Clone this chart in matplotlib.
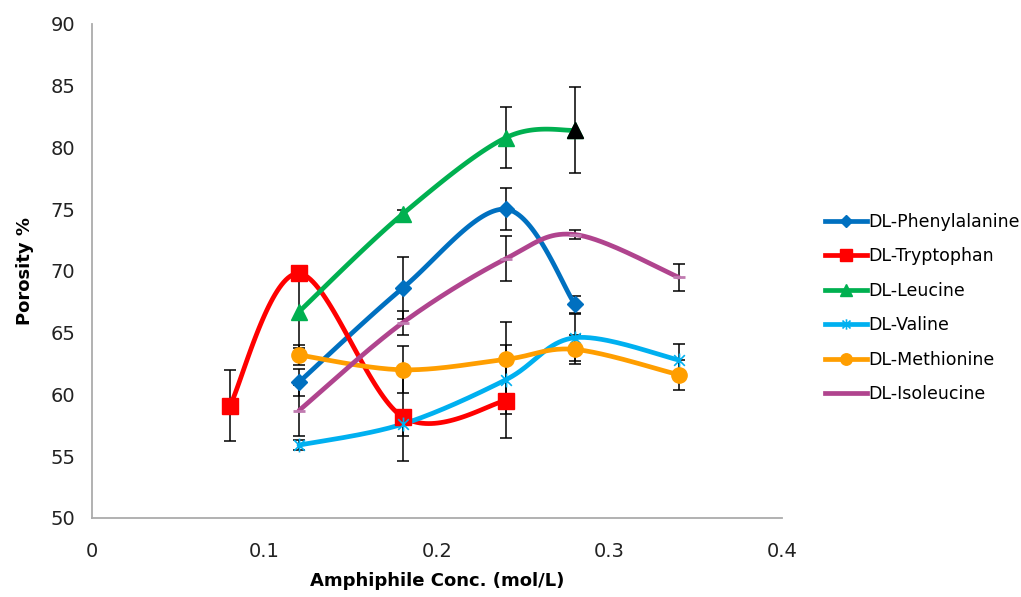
import numpy as np
import matplotlib.pyplot as plt
from matplotlib.path import Path

# data
phe_x = [0.12, 0.18, 0.24, 0.28]
phe_y = [61.0, 68.6, 75.0, 67.3]
phe_err = [1.1, 2.5, 1.7, 0.7]

trp_x = [0.08, 0.12, 0.18, 0.24]
trp_y = [59.1, 69.8, 58.2, 59.5]
trp_err = [2.85, 0.2, 3.6, 3.0]

leu_x = [0.12, 0.18, 0.24, 0.28]
leu_y = [66.7, 74.6, 80.8, 81.4]
leu_err = [2.9, 0.3, 2.45, 3.5]

val_x = [0.12, 0.18, 0.24, 0.28, 0.34]
val_y = [55.9, 57.6, 61.2, 64.6, 62.8]
val_err = [0.4, 1.0, 2.8, 1.9, 1.3]

met_x = [0.12, 0.18, 0.24, 0.28, 0.34]
met_y = [63.2, 62.0, 62.85, 63.65, 61.6]
met_err = [0.8, 1.9, 3.0, 1.2, 1.2]

ile_x = [0.12, 0.18, 0.24, 0.28, 0.34]
ile_y = [58.7, 65.8, 71.0, 72.95, 69.5]
ile_err = [2.05, 1.0, 1.8, 0.35, 1.1]

plt.rcParams['font.family'] = ['DejaVu Sans']

# excel-like "star" marker: an x plus a vertical bar
star = Path([(-1, -1), (1, 1), (-1, 1), (1, -1), (0, -1.3), (0, 1.3)],
            [Path.MOVETO, Path.LINETO, Path.MOVETO, Path.LINETO, Path.MOVETO, Path.LINETO])

fig = plt.figure(figsize=(10.21, 5.97), dpi=100)
ax = fig.add_axes([92 / 1021, 1 - 518 / 597, 690 / 1021, 494 / 597])
ax.set_xlim(0, 0.4)
ax.set_ylim(50, 90)


def smooth(xs, ys, n=40):
    # excel style smoothed line, bezier through points computed in screen space
    pts = ax.transData.transform(np.column_stack([xs, ys]))
    p = np.vstack([pts[0], pts, pts[-1]])
    out = []
    t = np.linspace(0, 1, n)[:, None]
    for i in range(1, len(p) - 2):
        p0, p3 = p[i], p[i + 1]
        c1 = p0 + (p[i + 1] - p[i - 1]) / 6
        c2 = p3 - (p[i + 2] - p[i]) / 6
        seg = ((1 - t) ** 3) * p0 + 3 * ((1 - t) ** 2) * t * c1 + 3 * (1 - t) * t ** 2 * c2 + t ** 3 * p3
        out.append(seg)
    seg = np.vstack(out)
    d = ax.transData.inverted().transform(seg)
    return d[:, 0], d[:, 1]


series = [
    ('DL-Phenylalanine', phe_x, phe_y, phe_err, '#0070C0', 'D', 8),
    ('DL-Tryptophan', trp_x, trp_y, trp_err, '#FF0000', 's', 11),
    ('DL-Leucine', leu_x, leu_y, leu_err, '#00B050', '^', 12),
    ('DL-Valine', val_x, val_y, val_err, '#00B0F0', star, 10),
    ('DL-Methionine', met_x, met_y, met_err, '#FF9E00', 'o', 11),
    ('DL-Isoleucine', ile_x, ile_y, ile_err, '#B0448E', '_', 9),
]

for name, xs, ys, err, col, mk, ms in series:
    ax.errorbar(xs, ys, yerr=err, fmt='none', ecolor='black', elinewidth=1.1,
                capsize=4, capthick=1.1, zorder=2)

for name, xs, ys, err, col, mk, ms in series:
    sx, sy = smooth(xs, ys)
    ax.plot(sx, sy, color=col, lw=3.4, zorder=3, solid_capstyle='round')
    if mk is star:
        ax.plot(xs, ys, ls='none', marker=mk, ms=ms, mec=col, mew=1.2, zorder=4)
    elif mk == '_':
        ax.plot(xs, ys, ls='none', marker=mk, ms=ms, mec='#C07AB0', mew=2, zorder=4)
    else:
        ax.plot(xs, ys, ls='none', marker=mk, ms=ms, color=col, mec=col, zorder=4)
    ax.plot([], [], color=col, lw=3.4, marker=mk, ms=ms * 0.75,
            mec=col, mew=1.2 if mk is star else 1, label=name)

# last leucine point is drawn black in the original
ax.plot(leu_x[-1], leu_y[-1], ls='none', marker='^', ms=12, color='black', zorder=5)

ax.set_xticks([0, 0.1, 0.2, 0.3, 0.4])
ax.set_xticklabels(['0', '0.1', '0.2', '0.3', '0.4'])
ax.set_yticks(range(50, 91, 5))
ax.tick_params(length=0, labelsize=14, colors='#222222', pad=12)
ax.tick_params(axis='x', pad=17)
for s in ['top', 'right']:
    ax.spines[s].set_visible(False)
for s in ['left', 'bottom']:
    ax.spines[s].set_color('#ABABAB')
    ax.spines[s].set_linewidth(1.3)

ax.set_xlabel('Amphiphile Conc. (mol/L)', fontsize=13, fontweight='bold', labelpad=8)
ax.set_ylabel('Porosity %', fontsize=13, fontweight='bold', labelpad=12)

ax.legend(loc='center left', bbox_to_anchor=(1.04, 0.425), frameon=False,
          fontsize=12.5, handlelength=2.4, handletextpad=0.1, labelspacing=0.95)

plt.savefig('out.png', dpi=100)
